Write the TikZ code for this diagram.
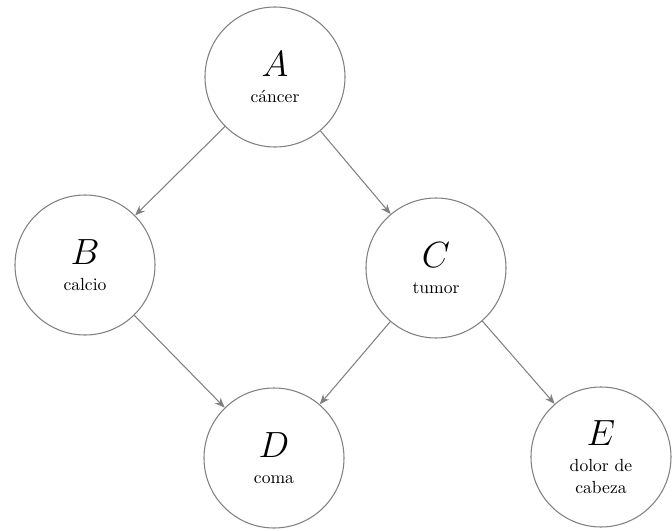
\documentclass[tikz,border=0pt]{standalone}
\usepackage{amsmath,amssymb}
\usepackage{tikz}
\usetikzlibrary{positioning,arrows.meta}
\tikzset{
  varnode/.style={circle,draw=gray,line width=.6pt,align=center,minimum size=2.8cm,inner sep=0pt,fill=white},
  vararr/.style={-{Stealth[length=2mm,width=1.6mm]},draw=gray,line width=.6pt},
  varname/.style={font=\huge}
}

\begin{document}
\begin{tikzpicture}
      \useasboundingbox (0,0) rectangle (13.44,-10.62);
      \node[varnode] (canc) at (5.50,-1.54) {{\huge$A$}\\[3pt]cáncer};
      \node[varnode] (calc) at (1.70,-5.30) {{\huge$B$}\\[3pt]calcio};
      \node[varnode] (tum) at (8.72,-5.36) {{\huge$C$}\\[3pt]tumor};
      \node[varnode] (coma) at (5.48,-9.16) {{\huge$D$}\\[3pt]coma};
      \node[varnode] (dolor) at (12.02,-9.14) {{\huge$E$}\\[3pt]dolor de\\cabeza};
      \draw[vararr] (canc) -- (calc);
      \draw[vararr] (canc) -- (tum);
      \draw[vararr] (calc) -- (coma);
      \draw[vararr] (tum) -- (coma);
      \draw[vararr] (tum) -- (dolor);
    \end{tikzpicture}
\end{document}
